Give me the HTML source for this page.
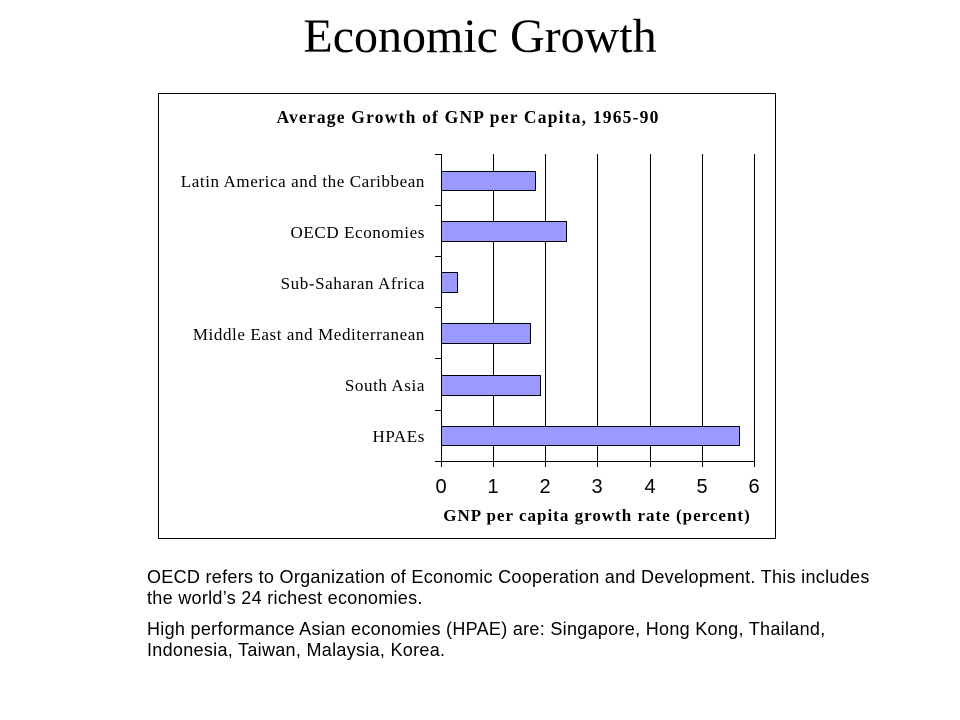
<!DOCTYPE html>
<html><head><style>
body{margin:0;width:960px;height:720px;background:#fff;overflow:hidden;position:relative}
.t{position:absolute;left:0;width:960px;text-align:center;top:9px;font:48px "Liberation Serif",serif}
.n{position:absolute;left:147px;font:18px/21px "Liberation Sans",sans-serif;letter-spacing:0.3px;color:#000;width:800px;white-space:nowrap}
</style></head><body>
<div class="t">Economic Growth</div>
<svg width="960" height="720" style="position:absolute;left:0;top:0">
<rect x="158.5" y="93.5" width="617" height="445" fill="none" stroke="#000"/>
<text x="468" y="123" text-anchor="middle" font-family="Liberation Serif" font-weight="bold" font-size="17.5" letter-spacing="1.2">Average Growth of GNP per Capita, 1965-90</text>
<g stroke="#000" stroke-width="1">
<line x1="493.5" y1="154" x2="493.5" y2="461"/><line x1="545.5" y1="154" x2="545.5" y2="461"/>
<line x1="597.5" y1="154" x2="597.5" y2="461"/><line x1="650.5" y1="154" x2="650.5" y2="461"/>
<line x1="702.5" y1="154" x2="702.5" y2="461"/><line x1="754.5" y1="154" x2="754.5" y2="461"/>
<line x1="441.5" y1="154" x2="441.5" y2="461"/><line x1="441" y1="461.5" x2="755" y2="461.5"/>
<path d="M435 154.5H441M435 205.5H441M435 256.5H441M435 307.5H441M435 358.5H441M435 410.5H441M435 461.5H441"/>
<path d="M441.5 461V467M493.5 461V467M545.5 461V467M597.5 461V467M650.5 461V467M702.5 461V467M754.5 461V467"/>
</g>
<g fill="#9999ff" stroke="#000">
<rect x="441.5" y="171.5" width="94" height="19"/>
<rect x="441.5" y="221.5" width="125" height="20"/>
<rect x="441.5" y="272.5" width="16" height="20"/>
<rect x="441.5" y="323.5" width="89" height="20"/>
<rect x="441.5" y="375.5" width="99" height="20"/>
<rect x="441.5" y="426.5" width="298" height="19"/>
</g>
<g font-family="Liberation Serif" font-size="17" text-anchor="end" letter-spacing="0.6">
<text x="425" y="187">Latin America and the Caribbean</text>
<text x="425" y="238">OECD Economies</text>
<text x="425" y="289">Sub-Saharan Africa</text>
<text x="425" y="340">Middle East and Mediterranean</text>
<text x="425" y="391">South Asia</text>
<text x="425" y="442">HPAEs</text>
</g>
<g font-family="Liberation Sans" font-size="20" text-anchor="middle">
<text x="441" y="493">0</text><text x="493" y="493">1</text><text x="545" y="493">2</text>
<text x="597" y="493">3</text><text x="650" y="493">4</text><text x="702" y="493">5</text><text x="754" y="493">6</text>
</g>
<text x="597" y="521" text-anchor="middle" font-family="Liberation Serif" font-weight="bold" font-size="17" letter-spacing="1">GNP per capita growth rate  (percent)</text>
</svg>
<div class="n" style="top:567px">OECD refers to Organization of Economic Cooperation and Development. This includes<br>the world’s 24 richest economies.</div>
<div class="n" style="top:619px">High performance Asian economies (HPAE) are: Singapore, Hong Kong, Thailand,<br>Indonesia, Taiwan, Malaysia, Korea.</div>
</body></html>
